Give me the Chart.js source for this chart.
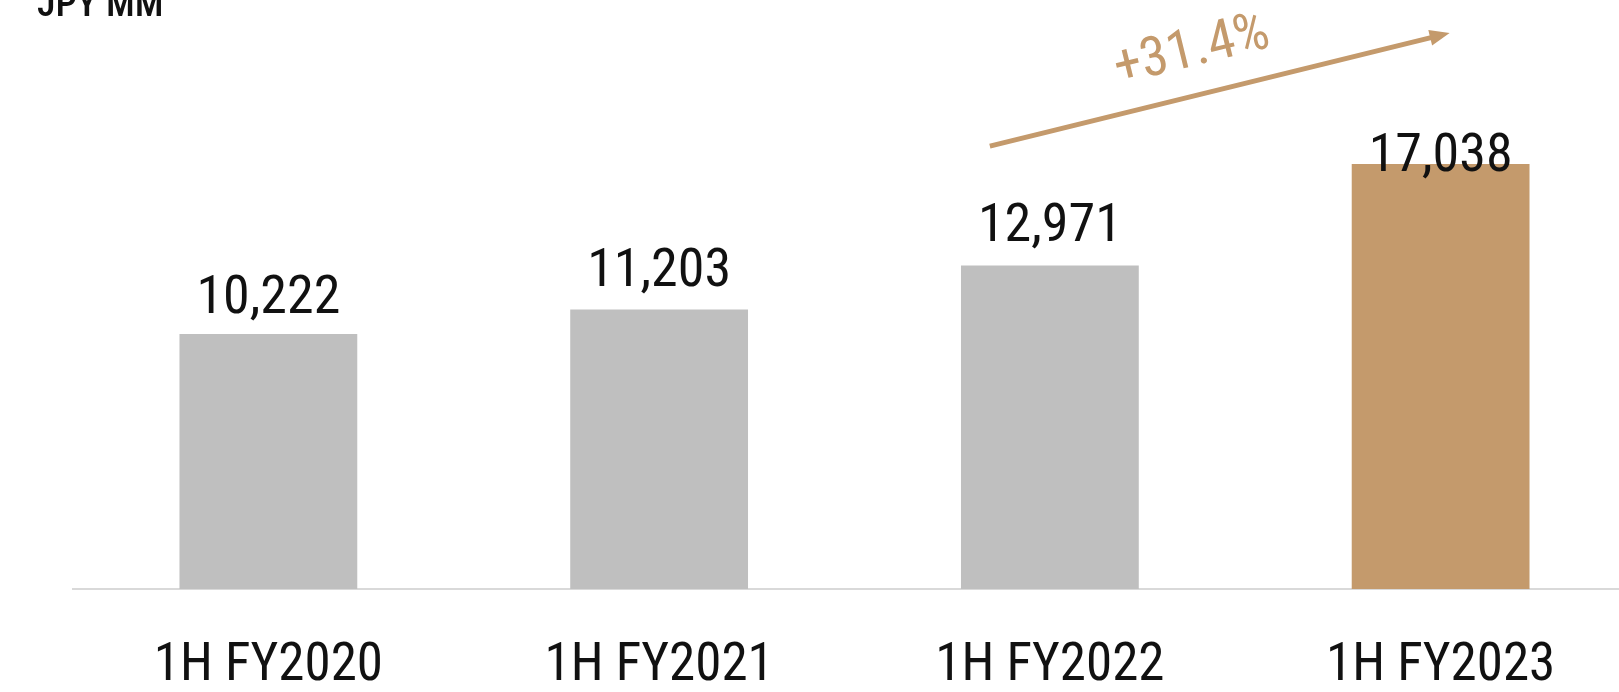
<!DOCTYPE html>
<html>
<head>
<meta charset="utf-8">
<script src="https://cdn.jsdelivr.net/npm/chart.js@4.4.1/dist/chart.umd.min.js"></script>
<style>
  html, body { margin: 0; padding: 0; background: #fff; overflow: hidden; }
  #wrap { position: relative; width: 1636px; height: 692px; }
</style>
</head>
<body>
<div id="wrap"><canvas id="chart-js"></canvas></div>
<script>
    // data
    const periods = ['1H FY2020', '1H FY2021', '1H FY2022', '1H FY2023'];
    const revenue = [10222, 11203, 12971, 17038];
    const unitLabel = 'JPY MM';
    const growthLabel = '+31.4%';

    const gray = '#BFBFBF';
    const gold = '#C49A6C';
    const fontFam = "'Roboto Condensed', Roboto, sans-serif";

    // value labels above each bar, last one sits lower (as in the slide)
    const valueLabels = {
        id: 'valueLabels',
        afterDatasetsDraw(chart) {
            const ctx = chart.ctx;
            const meta = chart.getDatasetMeta(0);
            const lift = [21, 24, 24, -7];
            ctx.save();
            ctx.font = '400 condensed 54px ' + fontFam;
            ctx.fillStyle = '#111';
            ctx.textAlign = 'center';
            ctx.textBaseline = 'alphabetic';
            meta.data.forEach((bar, i) => {
                ctx.fillText(revenue[i].toLocaleString('en-US'), bar.x, bar.y - lift[i]);
            });
            ctx.restore();
        }
    };

    const growthArrow = {
        id: 'growthArrow',
        afterDraw(chart) {
            const ctx = chart.ctx;
            const x = chart.scales.x, y = chart.scales.y;
            const x0 = x.getPixelForValue(2) - 60, y0 = y.getPixelForValue(17760);
            const x1 = x.getPixelForValue(3) + 9, y1 = y.getPixelForValue(22290);
            const ang = Math.atan2(y1 - y0, x1 - x0);
            ctx.save();
            ctx.strokeStyle = gold;
            ctx.fillStyle = gold;
            ctx.lineWidth = 5;
            ctx.beginPath();
            ctx.moveTo(x0, y0);
            ctx.lineTo(x1 - 14 * Math.cos(ang), y1 - 14 * Math.sin(ang));
            ctx.stroke();
            ctx.translate(x1, y1);
            ctx.rotate(ang);
            ctx.beginPath();
            ctx.moveTo(0, 0);
            ctx.lineTo(-20, -8);
            ctx.lineTo(-20, 8);
            ctx.closePath();
            ctx.fill();
            ctx.restore();

            ctx.save();
            ctx.translate(1192, 52);
            ctx.rotate(ang);
            ctx.font = '400 condensed 55px ' + fontFam;
            ctx.fillStyle = gold;
            ctx.textAlign = 'center';
            ctx.textBaseline = 'middle';
            ctx.fillText(growthLabel, 0, 0);
            ctx.restore();

            ctx.save();
            ctx.font = '500 condensed 38px ' + fontFam;
            ctx.fillStyle = '#111';
            ctx.textAlign = 'left';
            ctx.textBaseline = 'alphabetic';
            ctx.fillText(unitLabel, 37, 16);
            ctx.restore();
        }
    };

    const ctx = document.getElementById('chart-js').getContext('2d');

    const myChart = new Chart(ctx, {
        type: 'bar',
        data: {
            labels: periods,
            datasets: [{
                data: revenue,
                backgroundColor: revenue.map((v, i) => i === revenue.length - 1 ? gold : gray),
                borderWidth: 0,
                barPercentage: 0.455,
                categoryPercentage: 1
            }]
        },
        options: {
            responsive: true,
            maintainAspectRatio: false,
            animation: false,
            layout: { padding: { left: 73, right: 0, top: 0, bottom: 0 } },
            plugins: {
                legend: { display: false },
                tooltip: { enabled: false }
            },
            scales: {
                x: {
                    grid: { display: false, drawTicks: false },
                    border: { display: true, color: '#D9D9D9', width: 2 },
                    ticks: {
                        color: '#111',
                        padding: 46,
                        font: { family: fontFam, size: 53, weight: '400 condensed' }
                    },
                    afterFit(scale) { scale.height = 103; }
                },
                y: {
                    display: false,
                    min: 0,
                    max: 23616
                }
            }
        },
        plugins: [valueLabels, growthArrow]
    });
</script>
</body>
</html>
